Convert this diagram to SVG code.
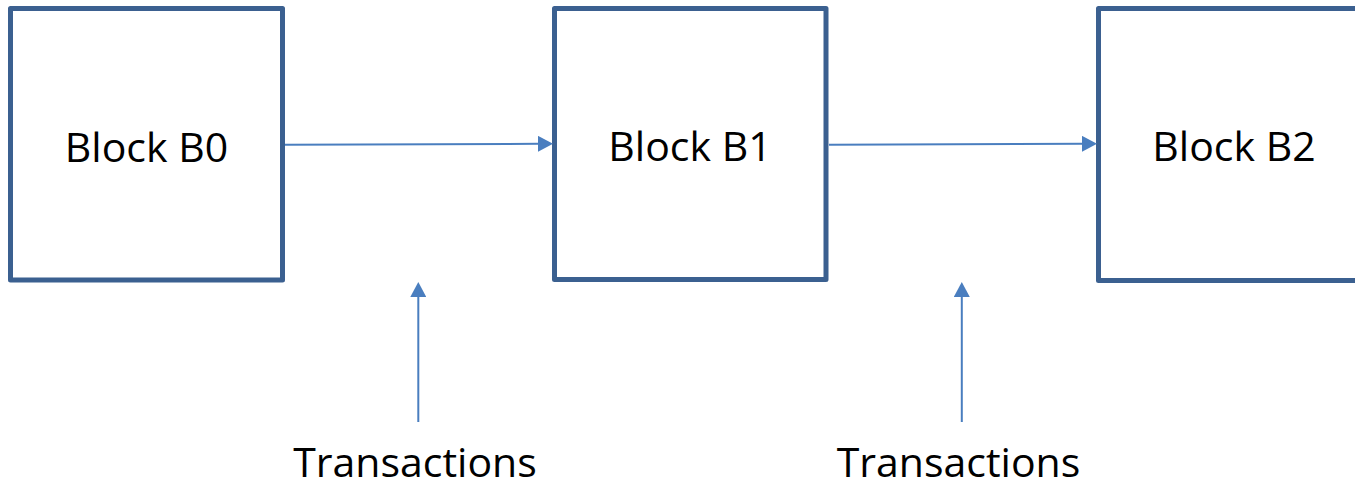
<svg xmlns="http://www.w3.org/2000/svg" width="1355" height="488" viewBox="0 0 1355 488">
  <style>
    .block { fill: #ffffff; stroke: #3b6090; stroke-width: 5; stroke-linejoin: round; }
    .label { font-family: "Open Sans", "Liberation Sans", sans-serif; font-size: 41px; fill: #000000; text-anchor: middle; }
    .link { stroke: #4a7ebf; stroke-width: 2; fill: none; marker-end: url(#head); }
  </style>
  <defs>
    <marker id="head" markerUnits="userSpaceOnUse" markerWidth="15" markerHeight="16" refX="1" refY="8" orient="auto">
      <path d="M0,0 L15,8 L0,16 Z" fill="#4a7ebf"/>
    </marker>
  </defs>

  <rect width="1355" height="488" fill="#ffffff"/>

  <g id="block-b0">
    <rect class="block" x="10.5" y="8.5" width="272" height="271.5"/>
    <text class="label" x="146.5" y="161.5">Block B0</text>
  </g>
  <g id="block-b1">
    <rect class="block" x="554.5" y="8.5" width="271.5" height="271"/>
    <text class="label" x="690" y="161">Block B1</text>
  </g>
  <g id="block-b2">
    <rect class="block" x="1098.5" y="8.5" width="272" height="272"/>
    <text class="label" x="1234" y="161">Block B2</text>
  </g>
  <g id="tx-1">
    <text class="label" x="415" y="477">Transactions</text>
  </g>
  <g id="tx-2">
    <text class="label" x="958.5" y="477">Transactions</text>
  </g>

  <g id="connectors">
    <line class="link" x1="285" y1="144.8" x2="539" y2="143.8"/>
    <line class="link" x1="829" y1="144.8" x2="1083" y2="143.8"/>
    <line class="link" x1="418.3" y1="422" x2="418.3" y2="296"/>
    <line class="link" x1="961.8" y1="422" x2="961.8" y2="296"/>
  </g>
</svg>
